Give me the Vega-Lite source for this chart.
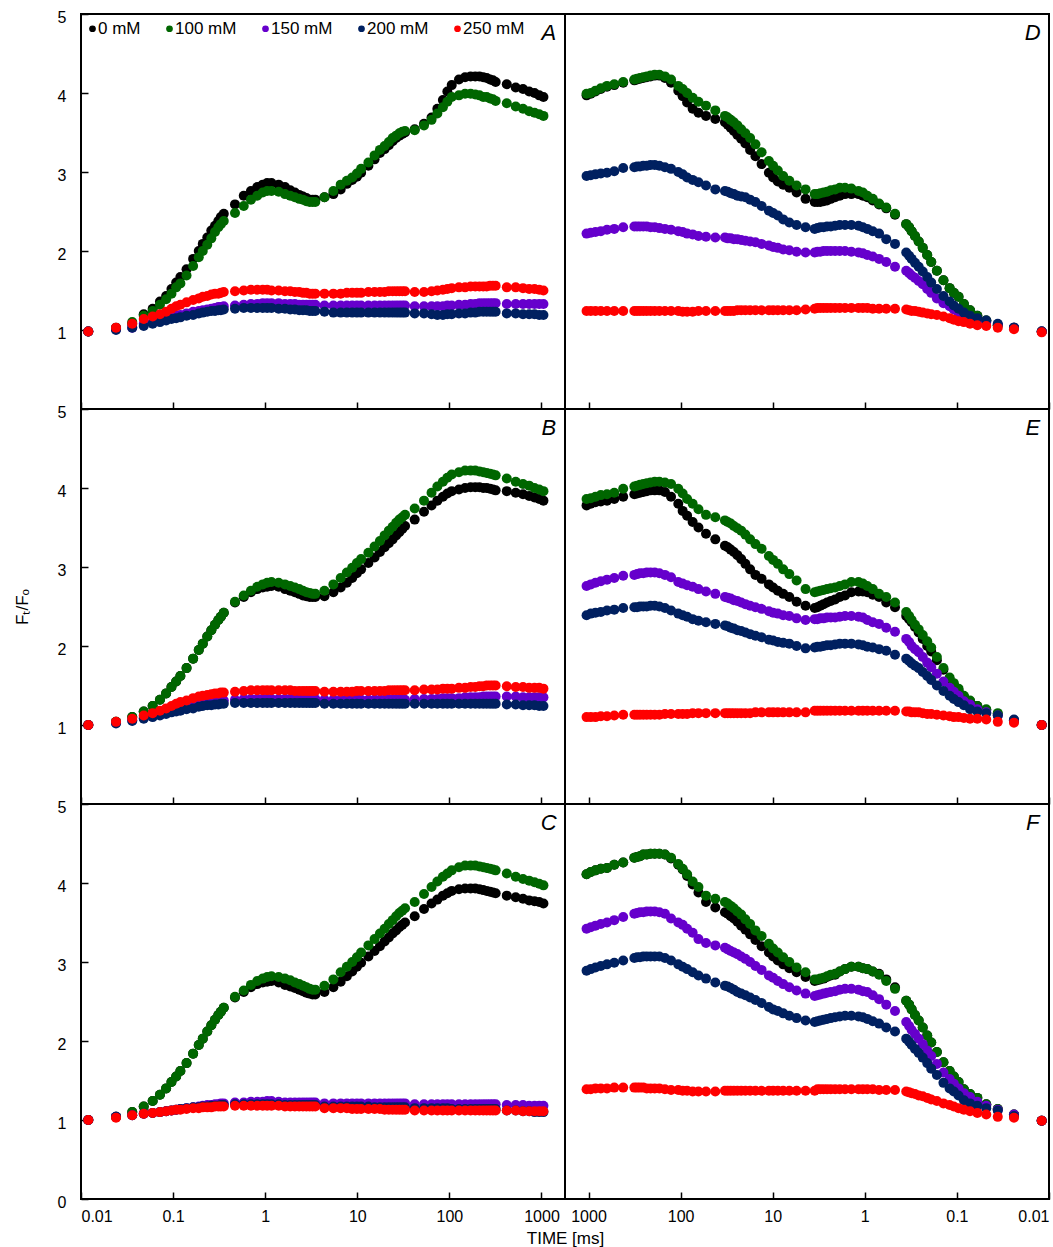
{
"$schema": "https://vega.github.io/schema/vega-lite/v6.json",
"padding": {"left": 12, "top": 8, "right": 3, "bottom": 5},
"background": "white",
"config": {
 "font": "Liberation Sans",
 "view": {"stroke": "black", "strokeWidth": 2},
 "axis": {"grid": false, "domain": false, "tickColor": "black", "tickWidth": 1.5, "tickSize": -7, "labelColor": "black", "labelFontSize": 16, "labelFont": "Liberation Sans", "titleFont": "Liberation Sans", "titleFontWeight": "normal", "titleColor": "black", "titleFontSize": 17},
 "axisX": {"labelPadding": 16},
 "axisY": {"labelPadding": 22, "labelOffset": 3, "format": "d"},
 "legend": {"orient": "none", "legendX": 3, "legendY": 6, "direction": "horizontal", "title": null, "labelFontSize": 17, "labelColor": "black", "symbolSize": 45, "symbolType": "circle", "symbolStrokeWidth": 0, "columnPadding": 20, "labelOffset": -3}
},
"datasets": {"ojip": [
{"p":"A","t":0.012,"0":0.98,"100":0.98,"150":0.98,"200":0.98,"250":0.98},
{"p":"A","t":0.024,"0":1.03,"100":1.02,"150":1.01,"200":1.0,"250":1.03},
{"p":"A","t":0.036,"0":1.08,"100":1.1,"150":1.03,"200":1.03,"250":1.08},
{"p":"A","t":0.048,"0":1.2,"100":1.18,"150":1.08,"200":1.05,"250":1.14},
{"p":"A","t":0.06,"0":1.27,"100":1.24,"150":1.1,"200":1.08,"250":1.17},
{"p":"A","t":0.072,"0":1.36,"100":1.32,"150":1.12,"200":1.1,"250":1.2},
{"p":"A","t":0.084,"0":1.43,"100":1.39,"150":1.14,"200":1.12,"250":1.23},
{"p":"A","t":0.096,"0":1.52,"100":1.46,"150":1.16,"200":1.14,"250":1.27},
{"p":"A","t":0.108,"0":1.6,"100":1.54,"150":1.18,"200":1.15,"250":1.3},
{"p":"A","t":0.12,"0":1.67,"100":1.59,"150":1.19,"200":1.16,"250":1.32},
{"p":"A","t":0.14,"0":1.77,"100":1.69,"150":1.21,"200":1.18,"250":1.35},
{"p":"A","t":0.165,"0":1.9,"100":1.81,"150":1.23,"200":1.19,"250":1.38},
{"p":"A","t":0.19,"0":2.0,"100":1.92,"150":1.24,"200":1.21,"250":1.4},
{"p":"A","t":0.21,"0":2.09,"100":2.0,"150":1.25,"200":1.22,"250":1.42},
{"p":"A","t":0.235,"0":2.17,"100":2.08,"150":1.26,"200":1.23,"250":1.43},
{"p":"A","t":0.26,"0":2.26,"100":2.16,"150":1.27,"200":1.24,"250":1.45},
{"p":"A","t":0.285,"0":2.32,"100":2.24,"150":1.28,"200":1.24,"250":1.46},
{"p":"A","t":0.31,"0":2.38,"100":2.3,"150":1.29,"200":1.25,"250":1.46},
{"p":"A","t":0.33,"0":2.43,"100":2.34,"150":1.29,"200":1.25,"250":1.47},
{"p":"A","t":0.355,"0":2.47,"100":2.38,"150":1.3,"200":1.26,"250":1.48},
{"p":"A","t":0.47,"0":2.59,"100":2.48,"150":1.31,"200":1.27,"250":1.49},
{"p":"A","t":0.585,"0":2.7,"100":2.57,"150":1.32,"200":1.28,"250":1.5},
{"p":"A","t":0.7,"0":2.76,"100":2.65,"150":1.33,"200":1.28,"250":1.51},
{"p":"A","t":0.82,"0":2.81,"100":2.7,"150":1.33,"200":1.28,"250":1.51},
{"p":"A","t":0.94,"0":2.84,"100":2.74,"150":1.34,"200":1.28,"250":1.51},
{"p":"A","t":1.05,"0":2.86,"100":2.76,"150":1.34,"200":1.28,"250":1.51},
{"p":"A","t":1.17,"0":2.86,"100":2.76,"150":1.34,"200":1.28,"250":1.5},
{"p":"A","t":1.4,"0":2.84,"100":2.75,"150":1.34,"200":1.27,"250":1.5},
{"p":"A","t":1.64,"0":2.81,"100":2.72,"150":1.33,"200":1.27,"250":1.49},
{"p":"A","t":1.87,"0":2.77,"100":2.7,"150":1.33,"200":1.26,"250":1.49},
{"p":"A","t":2.1,"0":2.74,"100":2.68,"150":1.33,"200":1.26,"250":1.48},
{"p":"A","t":2.34,"0":2.71,"100":2.66,"150":1.32,"200":1.25,"250":1.48},
{"p":"A","t":2.57,"0":2.69,"100":2.65,"150":1.32,"200":1.25,"250":1.47},
{"p":"A","t":2.8,"0":2.67,"100":2.63,"150":1.32,"200":1.25,"250":1.47},
{"p":"A","t":3.04,"0":2.65,"100":2.62,"150":1.32,"200":1.24,"250":1.46},
{"p":"A","t":3.27,"0":2.65,"100":2.62,"150":1.32,"200":1.24,"250":1.46},
{"p":"A","t":3.5,"0":2.65,"100":2.62,"150":1.32,"200":1.24,"250":1.46},
{"p":"A","t":4.4,"0":2.68,"100":2.68,"150":1.31,"200":1.23,"250":1.46},
{"p":"A","t":5.5,"0":2.72,"100":2.76,"150":1.31,"200":1.22,"250":1.46},
{"p":"A","t":6.6,"0":2.78,"100":2.84,"150":1.31,"200":1.22,"250":1.46},
{"p":"A","t":7.7,"0":2.85,"100":2.89,"150":1.31,"200":1.22,"250":1.47},
{"p":"A","t":8.8,"0":2.9,"100":2.93,"150":1.31,"200":1.22,"250":1.47},
{"p":"A","t":9.9,"0":2.94,"100":2.98,"150":1.31,"200":1.22,"250":1.47},
{"p":"A","t":11,"0":2.99,"100":3.04,"150":1.31,"200":1.22,"250":1.47},
{"p":"A","t":13.2,"0":3.08,"100":3.12,"150":1.31,"200":1.22,"250":1.48},
{"p":"A","t":15.4,"0":3.16,"100":3.21,"150":1.31,"200":1.22,"250":1.48},
{"p":"A","t":17.6,"0":3.24,"100":3.28,"150":1.31,"200":1.22,"250":1.48},
{"p":"A","t":19.8,"0":3.29,"100":3.33,"150":1.31,"200":1.22,"250":1.48},
{"p":"A","t":22,"0":3.34,"100":3.38,"150":1.31,"200":1.22,"250":1.49},
{"p":"A","t":24.2,"0":3.39,"100":3.43,"150":1.31,"200":1.22,"250":1.49},
{"p":"A","t":26.4,"0":3.43,"100":3.46,"150":1.31,"200":1.22,"250":1.49},
{"p":"A","t":28.6,"0":3.46,"100":3.49,"150":1.31,"200":1.22,"250":1.49},
{"p":"A","t":30.8,"0":3.48,"100":3.51,"150":1.31,"200":1.22,"250":1.49},
{"p":"A","t":33,"0":3.5,"100":3.52,"150":1.31,"200":1.22,"250":1.49},
{"p":"A","t":42,"0":3.54,"100":3.53,"150":1.3,"200":1.21,"250":1.48},
{"p":"A","t":53,"0":3.61,"100":3.59,"150":1.3,"200":1.21,"250":1.48},
{"p":"A","t":64,"0":3.69,"100":3.66,"150":1.3,"200":1.2,"250":1.49},
{"p":"A","t":74,"0":3.8,"100":3.74,"150":1.3,"200":1.19,"250":1.5},
{"p":"A","t":85,"0":3.91,"100":3.82,"150":1.3,"200":1.19,"250":1.51},
{"p":"A","t":95,"0":4.02,"100":3.89,"150":1.31,"200":1.2,"250":1.52},
{"p":"A","t":106,"0":4.1,"100":3.95,"150":1.31,"200":1.2,"250":1.53},
{"p":"A","t":127,"0":4.17,"100":3.97,"150":1.32,"200":1.21,"250":1.54},
{"p":"A","t":148,"0":4.2,"100":3.99,"150":1.32,"200":1.21,"250":1.54},
{"p":"A","t":170,"0":4.21,"100":3.99,"150":1.33,"200":1.22,"250":1.55},
{"p":"A","t":191,"0":4.21,"100":3.98,"150":1.33,"200":1.22,"250":1.55},
{"p":"A","t":212,"0":4.21,"100":3.97,"150":1.34,"200":1.23,"250":1.55},
{"p":"A","t":233,"0":4.2,"100":3.95,"150":1.34,"200":1.23,"250":1.55},
{"p":"A","t":254,"0":4.19,"100":3.95,"150":1.34,"200":1.23,"250":1.55},
{"p":"A","t":276,"0":4.17,"100":3.93,"150":1.34,"200":1.23,"250":1.56},
{"p":"A","t":297,"0":4.16,"100":3.92,"150":1.34,"200":1.23,"250":1.56},
{"p":"A","t":318,"0":4.14,"100":3.9,"150":1.34,"200":1.23,"250":1.56},
{"p":"A","t":420,"0":4.11,"100":3.87,"150":1.33,"200":1.21,"250":1.54},
{"p":"A","t":525,"0":4.07,"100":3.83,"150":1.33,"200":1.21,"250":1.54},
{"p":"A","t":630,"0":4.05,"100":3.8,"150":1.33,"200":1.2,"250":1.53},
{"p":"A","t":735,"0":4.02,"100":3.77,"150":1.33,"200":1.2,"250":1.52},
{"p":"A","t":840,"0":4.0,"100":3.75,"150":1.33,"200":1.2,"250":1.52},
{"p":"A","t":945,"0":3.97,"100":3.73,"150":1.33,"200":1.19,"250":1.51},
{"p":"A","t":1050,"0":3.95,"100":3.71,"150":1.33,"200":1.19,"250":1.5},
{"p":"B","t":0.012,"0":1.0,"100":1.0,"150":1.0,"200":1.0,"250":1.0},
{"p":"B","t":0.024,"0":1.04,"100":1.04,"150":1.03,"200":1.02,"250":1.04},
{"p":"B","t":0.036,"0":1.1,"100":1.1,"150":1.06,"200":1.05,"250":1.08},
{"p":"B","t":0.048,"0":1.17,"100":1.17,"150":1.09,"200":1.08,"250":1.12},
{"p":"B","t":0.06,"0":1.24,"100":1.24,"150":1.11,"200":1.1,"250":1.15},
{"p":"B","t":0.072,"0":1.32,"100":1.32,"150":1.13,"200":1.12,"250":1.18},
{"p":"B","t":0.084,"0":1.4,"100":1.4,"150":1.15,"200":1.14,"250":1.21},
{"p":"B","t":0.096,"0":1.48,"100":1.48,"150":1.17,"200":1.16,"250":1.24},
{"p":"B","t":0.108,"0":1.55,"100":1.55,"150":1.19,"200":1.17,"250":1.27},
{"p":"B","t":0.12,"0":1.62,"100":1.62,"150":1.2,"200":1.18,"250":1.29},
{"p":"B","t":0.14,"0":1.72,"100":1.72,"150":1.22,"200":1.2,"250":1.31},
{"p":"B","t":0.165,"0":1.84,"100":1.84,"150":1.24,"200":1.21,"250":1.34},
{"p":"B","t":0.19,"0":1.95,"100":1.95,"150":1.26,"200":1.23,"250":1.36},
{"p":"B","t":0.21,"0":2.03,"100":2.03,"150":1.27,"200":1.24,"250":1.37},
{"p":"B","t":0.235,"0":2.12,"100":2.12,"150":1.28,"200":1.25,"250":1.38},
{"p":"B","t":0.26,"0":2.2,"100":2.2,"150":1.29,"200":1.25,"250":1.39},
{"p":"B","t":0.285,"0":2.27,"100":2.27,"150":1.3,"200":1.26,"250":1.4},
{"p":"B","t":0.31,"0":2.33,"100":2.33,"150":1.3,"200":1.26,"250":1.4},
{"p":"B","t":0.33,"0":2.37,"100":2.37,"150":1.31,"200":1.27,"250":1.41},
{"p":"B","t":0.355,"0":2.42,"100":2.42,"150":1.31,"200":1.27,"250":1.41},
{"p":"B","t":0.47,"0":2.55,"100":2.56,"150":1.32,"200":1.28,"250":1.42},
{"p":"B","t":0.585,"0":2.62,"100":2.64,"150":1.33,"200":1.28,"250":1.43},
{"p":"B","t":0.7,"0":2.68,"100":2.7,"150":1.33,"200":1.28,"250":1.44},
{"p":"B","t":0.82,"0":2.72,"100":2.75,"150":1.33,"200":1.28,"250":1.44},
{"p":"B","t":0.94,"0":2.74,"100":2.78,"150":1.33,"200":1.28,"250":1.44},
{"p":"B","t":1.05,"0":2.75,"100":2.8,"150":1.33,"200":1.28,"250":1.44},
{"p":"B","t":1.17,"0":2.76,"100":2.81,"150":1.33,"200":1.28,"250":1.44},
{"p":"B","t":1.4,"0":2.75,"100":2.8,"150":1.33,"200":1.28,"250":1.44},
{"p":"B","t":1.64,"0":2.72,"100":2.78,"150":1.33,"200":1.28,"250":1.44},
{"p":"B","t":1.87,"0":2.7,"100":2.76,"150":1.33,"200":1.28,"250":1.44},
{"p":"B","t":2.1,"0":2.68,"100":2.74,"150":1.33,"200":1.28,"250":1.43},
{"p":"B","t":2.34,"0":2.66,"100":2.72,"150":1.33,"200":1.28,"250":1.43},
{"p":"B","t":2.57,"0":2.64,"100":2.7,"150":1.33,"200":1.28,"250":1.43},
{"p":"B","t":2.8,"0":2.63,"100":2.68,"150":1.33,"200":1.28,"250":1.43},
{"p":"B","t":3.04,"0":2.62,"100":2.67,"150":1.33,"200":1.28,"250":1.43},
{"p":"B","t":3.27,"0":2.62,"100":2.66,"150":1.33,"200":1.28,"250":1.43},
{"p":"B","t":3.5,"0":2.62,"100":2.66,"150":1.33,"200":1.28,"250":1.43},
{"p":"B","t":4.4,"0":2.63,"100":2.7,"150":1.32,"200":1.27,"250":1.42},
{"p":"B","t":5.5,"0":2.68,"100":2.78,"150":1.32,"200":1.27,"250":1.42},
{"p":"B","t":6.6,"0":2.74,"100":2.86,"150":1.32,"200":1.27,"250":1.42},
{"p":"B","t":7.7,"0":2.8,"100":2.93,"150":1.32,"200":1.27,"250":1.42},
{"p":"B","t":8.8,"0":2.86,"100":2.99,"150":1.32,"200":1.27,"250":1.42},
{"p":"B","t":9.9,"0":2.92,"100":3.05,"150":1.32,"200":1.27,"250":1.43},
{"p":"B","t":11,"0":2.97,"100":3.1,"150":1.32,"200":1.27,"250":1.43},
{"p":"B","t":13.2,"0":3.05,"100":3.18,"150":1.32,"200":1.27,"250":1.43},
{"p":"B","t":15.4,"0":3.12,"100":3.26,"150":1.32,"200":1.27,"250":1.43},
{"p":"B","t":17.6,"0":3.19,"100":3.33,"150":1.32,"200":1.27,"250":1.43},
{"p":"B","t":19.8,"0":3.25,"100":3.4,"150":1.32,"200":1.27,"250":1.43},
{"p":"B","t":22,"0":3.3,"100":3.46,"150":1.32,"200":1.27,"250":1.44},
{"p":"B","t":24.2,"0":3.35,"100":3.51,"150":1.32,"200":1.27,"250":1.44},
{"p":"B","t":26.4,"0":3.4,"100":3.56,"150":1.32,"200":1.27,"250":1.44},
{"p":"B","t":28.6,"0":3.44,"100":3.6,"150":1.32,"200":1.27,"250":1.44},
{"p":"B","t":30.8,"0":3.48,"100":3.63,"150":1.32,"200":1.27,"250":1.44},
{"p":"B","t":33,"0":3.52,"100":3.66,"150":1.32,"200":1.27,"250":1.44},
{"p":"B","t":42,"0":3.6,"100":3.74,"150":1.33,"200":1.27,"250":1.44},
{"p":"B","t":53,"0":3.7,"100":3.84,"150":1.33,"200":1.27,"250":1.45},
{"p":"B","t":64,"0":3.78,"100":3.94,"150":1.33,"200":1.27,"250":1.45},
{"p":"B","t":74,"0":3.84,"100":4.02,"150":1.33,"200":1.27,"250":1.45},
{"p":"B","t":85,"0":3.89,"100":4.08,"150":1.34,"200":1.27,"250":1.46},
{"p":"B","t":95,"0":3.93,"100":4.13,"150":1.34,"200":1.27,"250":1.46},
{"p":"B","t":106,"0":3.96,"100":4.17,"150":1.34,"200":1.27,"250":1.46},
{"p":"B","t":127,"0":3.98,"100":4.2,"150":1.34,"200":1.27,"250":1.47},
{"p":"B","t":148,"0":4.0,"100":4.22,"150":1.35,"200":1.27,"250":1.47},
{"p":"B","t":170,"0":4.01,"100":4.22,"150":1.35,"200":1.27,"250":1.48},
{"p":"B","t":191,"0":4.01,"100":4.22,"150":1.35,"200":1.27,"250":1.48},
{"p":"B","t":212,"0":4.01,"100":4.21,"150":1.35,"200":1.27,"250":1.49},
{"p":"B","t":233,"0":4.0,"100":4.2,"150":1.36,"200":1.27,"250":1.49},
{"p":"B","t":254,"0":4.0,"100":4.19,"150":1.36,"200":1.27,"250":1.5},
{"p":"B","t":276,"0":3.99,"100":4.18,"150":1.36,"200":1.27,"250":1.5},
{"p":"B","t":297,"0":3.98,"100":4.17,"150":1.36,"200":1.27,"250":1.5},
{"p":"B","t":318,"0":3.97,"100":4.16,"150":1.36,"200":1.27,"250":1.5},
{"p":"B","t":420,"0":3.96,"100":4.12,"150":1.36,"200":1.26,"250":1.49},
{"p":"B","t":525,"0":3.94,"100":4.08,"150":1.36,"200":1.26,"250":1.48},
{"p":"B","t":630,"0":3.92,"100":4.05,"150":1.35,"200":1.25,"250":1.48},
{"p":"B","t":735,"0":3.9,"100":4.03,"150":1.35,"200":1.25,"250":1.47},
{"p":"B","t":840,"0":3.88,"100":4.0,"150":1.35,"200":1.25,"250":1.47},
{"p":"B","t":945,"0":3.86,"100":3.98,"150":1.35,"200":1.24,"250":1.47},
{"p":"B","t":1050,"0":3.84,"100":3.96,"150":1.35,"200":1.24,"250":1.46},
{"p":"C","t":0.012,"0":1.0,"100":1.0,"150":1.0,"200":1.0,"250":1.0},
{"p":"C","t":0.024,"0":1.04,"100":1.04,"150":1.04,"200":1.04,"250":1.03},
{"p":"C","t":0.036,"0":1.1,"100":1.1,"150":1.06,"200":1.06,"250":1.06},
{"p":"C","t":0.048,"0":1.17,"100":1.17,"150":1.08,"200":1.08,"250":1.08},
{"p":"C","t":0.06,"0":1.24,"100":1.24,"150":1.09,"200":1.09,"250":1.09},
{"p":"C","t":0.072,"0":1.32,"100":1.32,"150":1.1,"200":1.1,"250":1.1},
{"p":"C","t":0.084,"0":1.4,"100":1.4,"150":1.11,"200":1.11,"250":1.11},
{"p":"C","t":0.096,"0":1.48,"100":1.48,"150":1.12,"200":1.12,"250":1.12},
{"p":"C","t":0.108,"0":1.55,"100":1.55,"150":1.13,"200":1.13,"250":1.13},
{"p":"C","t":0.12,"0":1.62,"100":1.62,"150":1.14,"200":1.14,"250":1.13},
{"p":"C","t":0.14,"0":1.72,"100":1.72,"150":1.15,"200":1.15,"250":1.14},
{"p":"C","t":0.165,"0":1.84,"100":1.84,"150":1.16,"200":1.16,"250":1.15},
{"p":"C","t":0.19,"0":1.95,"100":1.95,"150":1.17,"200":1.16,"250":1.15},
{"p":"C","t":0.21,"0":2.03,"100":2.03,"150":1.18,"200":1.17,"250":1.16},
{"p":"C","t":0.235,"0":2.12,"100":2.12,"150":1.19,"200":1.17,"250":1.16},
{"p":"C","t":0.26,"0":2.2,"100":2.2,"150":1.19,"200":1.18,"250":1.16},
{"p":"C","t":0.285,"0":2.27,"100":2.27,"150":1.2,"200":1.18,"250":1.17},
{"p":"C","t":0.31,"0":2.33,"100":2.33,"150":1.2,"200":1.18,"250":1.17},
{"p":"C","t":0.33,"0":2.37,"100":2.37,"150":1.21,"200":1.19,"250":1.17},
{"p":"C","t":0.355,"0":2.42,"100":2.42,"150":1.21,"200":1.19,"250":1.17},
{"p":"C","t":0.47,"0":2.55,"100":2.56,"150":1.22,"200":1.2,"250":1.18},
{"p":"C","t":0.585,"0":2.62,"100":2.64,"150":1.22,"200":1.2,"250":1.18},
{"p":"C","t":0.7,"0":2.68,"100":2.71,"150":1.23,"200":1.2,"250":1.18},
{"p":"C","t":0.82,"0":2.72,"100":2.76,"150":1.23,"200":1.2,"250":1.18},
{"p":"C","t":0.94,"0":2.74,"100":2.79,"150":1.23,"200":1.2,"250":1.18},
{"p":"C","t":1.05,"0":2.75,"100":2.81,"150":1.24,"200":1.2,"250":1.18},
{"p":"C","t":1.17,"0":2.76,"100":2.82,"150":1.24,"200":1.2,"250":1.18},
{"p":"C","t":1.4,"0":2.74,"100":2.81,"150":1.23,"200":1.2,"250":1.18},
{"p":"C","t":1.64,"0":2.71,"100":2.79,"150":1.22,"200":1.19,"250":1.17},
{"p":"C","t":1.87,"0":2.69,"100":2.77,"150":1.22,"200":1.19,"250":1.17},
{"p":"C","t":2.1,"0":2.67,"100":2.74,"150":1.22,"200":1.19,"250":1.17},
{"p":"C","t":2.34,"0":2.65,"100":2.72,"150":1.22,"200":1.19,"250":1.17},
{"p":"C","t":2.57,"0":2.63,"100":2.7,"150":1.22,"200":1.19,"250":1.17},
{"p":"C","t":2.8,"0":2.61,"100":2.68,"150":1.22,"200":1.19,"250":1.17},
{"p":"C","t":3.04,"0":2.6,"100":2.66,"150":1.22,"200":1.19,"250":1.17},
{"p":"C","t":3.27,"0":2.59,"100":2.65,"150":1.22,"200":1.19,"250":1.17},
{"p":"C","t":3.5,"0":2.59,"100":2.65,"150":1.22,"200":1.19,"250":1.17},
{"p":"C","t":4.4,"0":2.62,"100":2.7,"150":1.21,"200":1.17,"250":1.15},
{"p":"C","t":5.5,"0":2.68,"100":2.78,"150":1.21,"200":1.17,"250":1.15},
{"p":"C","t":6.6,"0":2.75,"100":2.87,"150":1.21,"200":1.17,"250":1.15},
{"p":"C","t":7.7,"0":2.82,"100":2.94,"150":1.21,"200":1.17,"250":1.15},
{"p":"C","t":8.8,"0":2.88,"100":3.0,"150":1.21,"200":1.17,"250":1.14},
{"p":"C","t":9.9,"0":2.94,"100":3.06,"150":1.21,"200":1.17,"250":1.14},
{"p":"C","t":11,"0":2.99,"100":3.12,"150":1.21,"200":1.17,"250":1.14},
{"p":"C","t":13.2,"0":3.07,"100":3.21,"150":1.21,"200":1.17,"250":1.14},
{"p":"C","t":15.4,"0":3.14,"100":3.29,"150":1.21,"200":1.16,"250":1.14},
{"p":"C","t":17.6,"0":3.2,"100":3.36,"150":1.21,"200":1.16,"250":1.14},
{"p":"C","t":19.8,"0":3.26,"100":3.42,"150":1.21,"200":1.16,"250":1.13},
{"p":"C","t":22,"0":3.31,"100":3.48,"150":1.21,"200":1.16,"250":1.13},
{"p":"C","t":24.2,"0":3.36,"100":3.53,"150":1.21,"200":1.16,"250":1.13},
{"p":"C","t":26.4,"0":3.4,"100":3.58,"150":1.21,"200":1.16,"250":1.13},
{"p":"C","t":28.6,"0":3.44,"100":3.62,"150":1.21,"200":1.16,"250":1.13},
{"p":"C","t":30.8,"0":3.47,"100":3.65,"150":1.21,"200":1.16,"250":1.13},
{"p":"C","t":33,"0":3.5,"100":3.68,"150":1.21,"200":1.16,"250":1.13},
{"p":"C","t":42,"0":3.58,"100":3.76,"150":1.2,"200":1.15,"250":1.12},
{"p":"C","t":53,"0":3.67,"100":3.86,"150":1.2,"200":1.15,"250":1.12},
{"p":"C","t":64,"0":3.74,"100":3.95,"150":1.2,"200":1.15,"250":1.12},
{"p":"C","t":74,"0":3.79,"100":4.02,"150":1.2,"200":1.15,"250":1.12},
{"p":"C","t":85,"0":3.84,"100":4.08,"150":1.2,"200":1.15,"250":1.12},
{"p":"C","t":95,"0":3.87,"100":4.12,"150":1.2,"200":1.15,"250":1.12},
{"p":"C","t":106,"0":3.9,"100":4.16,"150":1.2,"200":1.14,"250":1.12},
{"p":"C","t":127,"0":3.92,"100":4.2,"150":1.2,"200":1.14,"250":1.12},
{"p":"C","t":148,"0":3.93,"100":4.22,"150":1.2,"200":1.14,"250":1.12},
{"p":"C","t":170,"0":3.93,"100":4.22,"150":1.2,"200":1.14,"250":1.12},
{"p":"C","t":191,"0":3.93,"100":4.22,"150":1.2,"200":1.14,"250":1.12},
{"p":"C","t":212,"0":3.92,"100":4.21,"150":1.2,"200":1.14,"250":1.12},
{"p":"C","t":233,"0":3.91,"100":4.2,"150":1.2,"200":1.14,"250":1.12},
{"p":"C","t":254,"0":3.9,"100":4.19,"150":1.2,"200":1.14,"250":1.12},
{"p":"C","t":276,"0":3.89,"100":4.18,"150":1.2,"200":1.14,"250":1.12},
{"p":"C","t":297,"0":3.88,"100":4.17,"150":1.2,"200":1.14,"250":1.12},
{"p":"C","t":318,"0":3.87,"100":4.16,"150":1.2,"200":1.14,"250":1.12},
{"p":"C","t":420,"0":3.84,"100":4.12,"150":1.19,"200":1.12,"250":1.12},
{"p":"C","t":525,"0":3.82,"100":4.08,"150":1.19,"200":1.12,"250":1.12},
{"p":"C","t":630,"0":3.8,"100":4.05,"150":1.19,"200":1.11,"250":1.11},
{"p":"C","t":735,"0":3.78,"100":4.03,"150":1.18,"200":1.11,"250":1.11},
{"p":"C","t":840,"0":3.77,"100":4.01,"150":1.18,"200":1.1,"250":1.11},
{"p":"C","t":945,"0":3.76,"100":3.99,"150":1.18,"200":1.1,"250":1.11},
{"p":"C","t":1050,"0":3.74,"100":3.97,"150":1.18,"200":1.1,"250":1.11},
{"p":"D","t":0.012,"0":0.98,"100":0.98,"150":0.98,"200":0.98,"250":0.97},
{"p":"D","t":0.024,"0":1.03,"100":1.03,"150":1.03,"200":1.03,"250":1.01},
{"p":"D","t":0.036,"0":1.06,"100":1.06,"150":1.07,"200":1.08,"250":1.03},
{"p":"D","t":0.048,"0":1.12,"100":1.12,"150":1.1,"200":1.12,"250":1.05},
{"p":"D","t":0.06,"0":1.18,"100":1.18,"150":1.13,"200":1.15,"250":1.06},
{"p":"D","t":0.072,"0":1.25,"100":1.25,"150":1.16,"200":1.18,"250":1.08},
{"p":"D","t":0.084,"0":1.33,"100":1.33,"150":1.19,"200":1.22,"250":1.1},
{"p":"D","t":0.096,"0":1.42,"100":1.42,"150":1.22,"200":1.27,"250":1.11},
{"p":"D","t":0.108,"0":1.47,"100":1.47,"150":1.26,"200":1.31,"250":1.13},
{"p":"D","t":0.12,"0":1.53,"100":1.53,"150":1.3,"200":1.36,"250":1.15},
{"p":"D","t":0.14,"0":1.63,"100":1.63,"150":1.34,"200":1.43,"250":1.17},
{"p":"D","t":0.165,"0":1.75,"100":1.75,"150":1.4,"200":1.52,"250":1.19},
{"p":"D","t":0.19,"0":1.86,"100":1.86,"150":1.47,"200":1.6,"250":1.2},
{"p":"D","t":0.21,"0":1.95,"100":1.95,"150":1.52,"200":1.67,"250":1.21},
{"p":"D","t":0.235,"0":2.04,"100":2.04,"150":1.58,"200":1.74,"250":1.22},
{"p":"D","t":0.26,"0":2.12,"100":2.12,"150":1.62,"200":1.8,"250":1.23},
{"p":"D","t":0.285,"0":2.19,"100":2.19,"150":1.66,"200":1.85,"250":1.24},
{"p":"D","t":0.31,"0":2.25,"100":2.25,"150":1.69,"200":1.9,"250":1.24},
{"p":"D","t":0.33,"0":2.3,"100":2.3,"150":1.72,"200":1.94,"250":1.25},
{"p":"D","t":0.355,"0":2.34,"100":2.34,"150":1.75,"200":1.98,"250":1.26},
{"p":"D","t":0.47,"0":2.46,"100":2.47,"150":1.8,"200":2.09,"250":1.27},
{"p":"D","t":0.585,"0":2.54,"100":2.55,"150":1.86,"200":2.15,"250":1.27},
{"p":"D","t":0.7,"0":2.59,"100":2.6,"150":1.9,"200":2.22,"250":1.27},
{"p":"D","t":0.82,"0":2.64,"100":2.66,"150":1.93,"200":2.25,"250":1.27},
{"p":"D","t":0.94,"0":2.68,"100":2.7,"150":1.95,"200":2.28,"250":1.28},
{"p":"D","t":1.05,"0":2.7,"100":2.74,"150":1.97,"200":2.3,"250":1.28},
{"p":"D","t":1.17,"0":2.72,"100":2.76,"150":1.98,"200":2.32,"250":1.28},
{"p":"D","t":1.4,"0":2.72,"100":2.79,"150":1.99,"200":2.33,"250":1.28},
{"p":"D","t":1.64,"0":2.72,"100":2.8,"150":2.0,"200":2.33,"250":1.28},
{"p":"D","t":1.87,"0":2.7,"100":2.8,"150":2.0,"200":2.33,"250":1.28},
{"p":"D","t":2.1,"0":2.68,"100":2.78,"150":2.0,"200":2.32,"250":1.28},
{"p":"D","t":2.34,"0":2.66,"100":2.77,"150":2.0,"200":2.31,"250":1.28},
{"p":"D","t":2.57,"0":2.64,"100":2.75,"150":2.0,"200":2.31,"250":1.28},
{"p":"D","t":2.8,"0":2.63,"100":2.74,"150":2.0,"200":2.3,"250":1.28},
{"p":"D","t":3.04,"0":2.62,"100":2.73,"150":1.99,"200":2.3,"250":1.28},
{"p":"D","t":3.27,"0":2.62,"100":2.72,"150":1.99,"200":2.29,"250":1.28},
{"p":"D","t":3.5,"0":2.62,"100":2.72,"150":1.98,"200":2.28,"250":1.27},
{"p":"D","t":4.4,"0":2.66,"100":2.78,"150":1.98,"200":2.3,"250":1.26},
{"p":"D","t":5.5,"0":2.74,"100":2.83,"150":1.99,"200":2.33,"250":1.25},
{"p":"D","t":6.6,"0":2.8,"100":2.89,"150":2.01,"200":2.36,"250":1.25},
{"p":"D","t":7.7,"0":2.84,"100":2.95,"150":2.02,"200":2.4,"250":1.25},
{"p":"D","t":8.8,"0":2.88,"100":3.02,"150":2.04,"200":2.45,"250":1.25},
{"p":"D","t":9.9,"0":2.93,"100":3.08,"150":2.05,"200":2.48,"250":1.25},
{"p":"D","t":11,"0":2.99,"100":3.14,"150":2.07,"200":2.51,"250":1.25},
{"p":"D","t":13.2,"0":3.1,"100":3.25,"150":2.09,"200":2.57,"250":1.25},
{"p":"D","t":15.4,"0":3.2,"100":3.35,"150":2.11,"200":2.62,"250":1.25},
{"p":"D","t":17.6,"0":3.28,"100":3.43,"150":2.12,"200":2.65,"250":1.25},
{"p":"D","t":19.8,"0":3.36,"100":3.49,"150":2.13,"200":2.68,"250":1.25},
{"p":"D","t":22,"0":3.42,"100":3.54,"150":2.14,"200":2.69,"250":1.25},
{"p":"D","t":24.2,"0":3.47,"100":3.59,"150":2.15,"200":2.7,"250":1.25},
{"p":"D","t":26.4,"0":3.52,"100":3.63,"150":2.15,"200":2.72,"250":1.24},
{"p":"D","t":28.6,"0":3.56,"100":3.66,"150":2.16,"200":2.73,"250":1.24},
{"p":"D","t":30.8,"0":3.6,"100":3.69,"150":2.16,"200":2.75,"250":1.24},
{"p":"D","t":33,"0":3.63,"100":3.71,"150":2.17,"200":2.76,"250":1.24},
{"p":"D","t":42,"0":3.67,"100":3.78,"150":2.17,"200":2.78,"250":1.24},
{"p":"D","t":53,"0":3.71,"100":3.84,"150":2.18,"200":2.83,"250":1.24},
{"p":"D","t":64,"0":3.75,"100":3.89,"150":2.19,"200":2.87,"250":1.24},
{"p":"D","t":74,"0":3.8,"100":3.94,"150":2.21,"200":2.9,"250":1.23},
{"p":"D","t":85,"0":3.88,"100":4.0,"150":2.22,"200":2.93,"250":1.23},
{"p":"D","t":95,"0":3.96,"100":4.05,"150":2.24,"200":2.97,"250":1.23},
{"p":"D","t":106,"0":4.03,"100":4.09,"150":2.25,"200":3.0,"250":1.24},
{"p":"D","t":127,"0":4.13,"100":4.17,"150":2.27,"200":3.04,"250":1.24},
{"p":"D","t":148,"0":4.19,"100":4.21,"150":2.28,"200":3.06,"250":1.24},
{"p":"D","t":170,"0":4.22,"100":4.23,"150":2.29,"200":3.08,"250":1.24},
{"p":"D","t":191,"0":4.22,"100":4.23,"150":2.3,"200":3.09,"250":1.24},
{"p":"D","t":212,"0":4.21,"100":4.22,"150":2.3,"200":3.09,"250":1.24},
{"p":"D","t":233,"0":4.2,"100":4.21,"150":2.31,"200":3.08,"250":1.24},
{"p":"D","t":254,"0":4.19,"100":4.2,"150":2.31,"200":3.08,"250":1.24},
{"p":"D","t":276,"0":4.18,"100":4.19,"150":2.31,"200":3.07,"250":1.24},
{"p":"D","t":297,"0":4.17,"100":4.18,"150":2.31,"200":3.07,"250":1.24},
{"p":"D","t":318,"0":4.16,"100":4.17,"150":2.31,"200":3.06,"250":1.24},
{"p":"D","t":420,"0":4.13,"100":4.14,"150":2.3,"200":3.05,"250":1.24},
{"p":"D","t":525,"0":4.1,"100":4.11,"150":2.28,"200":3.01,"250":1.24},
{"p":"D","t":630,"0":4.08,"100":4.09,"150":2.27,"200":2.99,"250":1.24},
{"p":"D","t":735,"0":4.05,"100":4.06,"150":2.25,"200":2.98,"250":1.24},
{"p":"D","t":840,"0":4.02,"100":4.03,"150":2.24,"200":2.97,"250":1.24},
{"p":"D","t":945,"0":3.99,"100":4.0,"150":2.23,"200":2.96,"250":1.24},
{"p":"D","t":1050,"0":3.97,"100":3.99,"150":2.22,"200":2.95,"250":1.24},
{"p":"E","t":0.012,"0":1.0,"100":1.0,"150":1.0,"200":1.0,"250":1.0},
{"p":"E","t":0.024,"0":1.05,"100":1.06,"150":1.06,"200":1.07,"250":1.03},
{"p":"E","t":0.036,"0":1.14,"100":1.15,"150":1.12,"200":1.12,"250":1.04},
{"p":"E","t":0.048,"0":1.19,"100":1.2,"150":1.16,"200":1.15,"250":1.07},
{"p":"E","t":0.06,"0":1.24,"100":1.24,"150":1.2,"200":1.17,"250":1.08},
{"p":"E","t":0.072,"0":1.3,"100":1.31,"150":1.26,"200":1.2,"250":1.08},
{"p":"E","t":0.084,"0":1.36,"100":1.37,"150":1.3,"200":1.25,"250":1.09},
{"p":"E","t":0.096,"0":1.44,"100":1.46,"150":1.37,"200":1.29,"250":1.1},
{"p":"E","t":0.108,"0":1.51,"100":1.53,"150":1.42,"200":1.33,"250":1.1},
{"p":"E","t":0.12,"0":1.58,"100":1.6,"150":1.47,"200":1.37,"250":1.11},
{"p":"E","t":0.14,"0":1.7,"100":1.72,"150":1.55,"200":1.43,"250":1.12},
{"p":"E","t":0.165,"0":1.82,"100":1.86,"150":1.65,"200":1.5,"250":1.13},
{"p":"E","t":0.19,"0":1.93,"100":1.98,"150":1.73,"200":1.57,"250":1.14},
{"p":"E","t":0.21,"0":2.0,"100":2.06,"150":1.79,"200":1.62,"250":1.14},
{"p":"E","t":0.235,"0":2.09,"100":2.14,"150":1.86,"200":1.67,"250":1.15},
{"p":"E","t":0.26,"0":2.17,"100":2.21,"150":1.92,"200":1.72,"250":1.16},
{"p":"E","t":0.285,"0":2.24,"100":2.27,"150":1.96,"200":1.75,"250":1.16},
{"p":"E","t":0.31,"0":2.3,"100":2.33,"150":2.0,"200":1.78,"250":1.16},
{"p":"E","t":0.33,"0":2.34,"100":2.38,"150":2.05,"200":1.81,"250":1.17},
{"p":"E","t":0.355,"0":2.38,"100":2.43,"150":2.09,"200":1.84,"250":1.17},
{"p":"E","t":0.47,"0":2.49,"100":2.55,"150":2.18,"200":1.89,"250":1.18},
{"p":"E","t":0.585,"0":2.55,"100":2.62,"150":2.23,"200":1.94,"250":1.18},
{"p":"E","t":0.7,"0":2.62,"100":2.66,"150":2.28,"200":1.96,"250":1.18},
{"p":"E","t":0.82,"0":2.65,"100":2.72,"150":2.3,"200":1.98,"250":1.18},
{"p":"E","t":0.94,"0":2.68,"100":2.76,"150":2.33,"200":1.99,"250":1.18},
{"p":"E","t":1.05,"0":2.69,"100":2.79,"150":2.36,"200":2.01,"250":1.18},
{"p":"E","t":1.17,"0":2.69,"100":2.81,"150":2.37,"200":2.02,"250":1.18},
{"p":"E","t":1.4,"0":2.68,"100":2.81,"150":2.38,"200":2.03,"250":1.18},
{"p":"E","t":1.64,"0":2.64,"100":2.78,"150":2.38,"200":2.03,"250":1.18},
{"p":"E","t":1.87,"0":2.62,"100":2.76,"150":2.37,"200":2.03,"250":1.18},
{"p":"E","t":2.1,"0":2.59,"100":2.74,"150":2.36,"200":2.02,"250":1.18},
{"p":"E","t":2.34,"0":2.57,"100":2.73,"150":2.36,"200":2.01,"250":1.18},
{"p":"E","t":2.57,"0":2.55,"100":2.72,"150":2.36,"200":2.01,"250":1.18},
{"p":"E","t":2.8,"0":2.53,"100":2.71,"150":2.35,"200":2.0,"250":1.18},
{"p":"E","t":3.04,"0":2.51,"100":2.7,"150":2.35,"200":1.99,"250":1.18},
{"p":"E","t":3.27,"0":2.49,"100":2.69,"150":2.34,"200":1.99,"250":1.18},
{"p":"E","t":3.5,"0":2.48,"100":2.68,"150":2.34,"200":1.98,"250":1.18},
{"p":"E","t":4.4,"0":2.51,"100":2.72,"150":2.33,"200":1.97,"250":1.16},
{"p":"E","t":5.5,"0":2.56,"100":2.83,"150":2.35,"200":2.0,"250":1.16},
{"p":"E","t":6.6,"0":2.62,"100":2.91,"150":2.38,"200":2.03,"250":1.16},
{"p":"E","t":7.7,"0":2.66,"100":2.97,"150":2.39,"200":2.04,"250":1.16},
{"p":"E","t":8.8,"0":2.7,"100":3.04,"150":2.41,"200":2.05,"250":1.16},
{"p":"E","t":9.9,"0":2.74,"100":3.09,"150":2.42,"200":2.07,"250":1.16},
{"p":"E","t":11,"0":2.78,"100":3.14,"150":2.44,"200":2.08,"250":1.16},
{"p":"E","t":13.2,"0":2.85,"100":3.23,"150":2.47,"200":2.11,"250":1.16},
{"p":"E","t":15.4,"0":2.9,"100":3.29,"150":2.49,"200":2.13,"250":1.16},
{"p":"E","t":17.6,"0":2.97,"100":3.35,"150":2.51,"200":2.15,"250":1.15},
{"p":"E","t":19.8,"0":3.04,"100":3.41,"150":2.53,"200":2.17,"250":1.15},
{"p":"E","t":22,"0":3.1,"100":3.46,"150":2.55,"200":2.19,"250":1.15},
{"p":"E","t":24.2,"0":3.15,"100":3.49,"150":2.57,"200":2.2,"250":1.15},
{"p":"E","t":26.4,"0":3.19,"100":3.52,"150":2.58,"200":2.22,"250":1.15},
{"p":"E","t":28.6,"0":3.22,"100":3.55,"150":2.6,"200":2.23,"250":1.15},
{"p":"E","t":30.8,"0":3.25,"100":3.57,"150":2.61,"200":2.25,"250":1.15},
{"p":"E","t":33,"0":3.27,"100":3.59,"150":2.62,"200":2.26,"250":1.15},
{"p":"E","t":42,"0":3.35,"100":3.63,"150":2.66,"200":2.28,"250":1.15},
{"p":"E","t":53,"0":3.42,"100":3.66,"150":2.69,"200":2.3,"250":1.15},
{"p":"E","t":64,"0":3.5,"100":3.73,"150":2.72,"200":2.32,"250":1.15},
{"p":"E","t":74,"0":3.57,"100":3.8,"150":2.75,"200":2.34,"250":1.15},
{"p":"E","t":85,"0":3.65,"100":3.86,"150":2.77,"200":2.37,"250":1.14},
{"p":"E","t":95,"0":3.71,"100":3.93,"150":2.79,"200":2.39,"250":1.14},
{"p":"E","t":106,"0":3.8,"100":3.99,"150":2.81,"200":2.41,"250":1.14},
{"p":"E","t":127,"0":3.89,"100":4.05,"150":2.87,"200":2.45,"250":1.14},
{"p":"E","t":148,"0":3.95,"100":4.07,"150":2.9,"200":2.48,"250":1.14},
{"p":"E","t":170,"0":3.97,"100":4.08,"150":2.92,"200":2.5,"250":1.13},
{"p":"E","t":191,"0":3.97,"100":4.08,"150":2.93,"200":2.51,"250":1.13},
{"p":"E","t":212,"0":3.97,"100":4.07,"150":2.93,"200":2.51,"250":1.13},
{"p":"E","t":233,"0":3.96,"100":4.06,"150":2.93,"200":2.5,"250":1.13},
{"p":"E","t":254,"0":3.95,"100":4.05,"150":2.92,"200":2.5,"250":1.13},
{"p":"E","t":276,"0":3.94,"100":4.04,"150":2.92,"200":2.5,"250":1.13},
{"p":"E","t":297,"0":3.93,"100":4.03,"150":2.91,"200":2.49,"250":1.13},
{"p":"E","t":318,"0":3.92,"100":4.02,"150":2.9,"200":2.49,"250":1.13},
{"p":"E","t":420,"0":3.89,"100":3.99,"150":2.89,"200":2.48,"250":1.13},
{"p":"E","t":525,"0":3.86,"100":3.94,"150":2.86,"200":2.46,"250":1.12},
{"p":"E","t":630,"0":3.84,"100":3.92,"150":2.84,"200":2.45,"250":1.11},
{"p":"E","t":735,"0":3.83,"100":3.91,"150":2.82,"200":2.43,"250":1.11},
{"p":"E","t":840,"0":3.82,"100":3.89,"150":2.8,"200":2.42,"250":1.1},
{"p":"E","t":945,"0":3.8,"100":3.87,"150":2.78,"200":2.41,"250":1.1},
{"p":"E","t":1050,"0":3.78,"100":3.86,"150":2.76,"200":2.39,"250":1.1},
{"p":"F","t":0.012,"0":0.99,"100":0.99,"150":0.99,"200":0.99,"250":0.99},
{"p":"F","t":0.024,"0":1.07,"100":1.07,"150":1.07,"200":1.05,"250":1.03},
{"p":"F","t":0.036,"0":1.14,"100":1.14,"150":1.13,"200":1.12,"250":1.04},
{"p":"F","t":0.048,"0":1.2,"100":1.2,"150":1.18,"200":1.15,"250":1.07},
{"p":"F","t":0.06,"0":1.28,"100":1.28,"150":1.23,"200":1.18,"250":1.09},
{"p":"F","t":0.072,"0":1.33,"100":1.33,"150":1.29,"200":1.21,"250":1.11},
{"p":"F","t":0.084,"0":1.39,"100":1.39,"150":1.34,"200":1.25,"250":1.13},
{"p":"F","t":0.096,"0":1.48,"100":1.48,"150":1.4,"200":1.31,"250":1.15},
{"p":"F","t":0.108,"0":1.55,"100":1.55,"150":1.46,"200":1.36,"250":1.17},
{"p":"F","t":0.12,"0":1.62,"100":1.62,"150":1.52,"200":1.4,"250":1.19},
{"p":"F","t":0.14,"0":1.73,"100":1.73,"150":1.6,"200":1.47,"250":1.21},
{"p":"F","t":0.165,"0":1.86,"100":1.86,"150":1.71,"200":1.57,"250":1.24},
{"p":"F","t":0.19,"0":1.98,"100":1.98,"150":1.81,"200":1.65,"250":1.26},
{"p":"F","t":0.21,"0":2.07,"100":2.07,"150":1.88,"200":1.72,"250":1.28},
{"p":"F","t":0.235,"0":2.17,"100":2.17,"150":1.96,"200":1.79,"250":1.3},
{"p":"F","t":0.26,"0":2.26,"100":2.26,"150":2.03,"200":1.85,"250":1.31},
{"p":"F","t":0.285,"0":2.33,"100":2.33,"150":2.09,"200":1.9,"250":1.33},
{"p":"F","t":0.31,"0":2.4,"100":2.4,"150":2.14,"200":1.95,"250":1.34},
{"p":"F","t":0.33,"0":2.46,"100":2.46,"150":2.19,"200":1.99,"250":1.35},
{"p":"F","t":0.355,"0":2.51,"100":2.51,"150":2.24,"200":2.03,"250":1.36},
{"p":"F","t":0.47,"0":2.68,"100":2.66,"150":2.38,"200":2.12,"250":1.38},
{"p":"F","t":0.585,"0":2.78,"100":2.76,"150":2.46,"200":2.17,"250":1.38},
{"p":"F","t":0.7,"0":2.85,"100":2.84,"150":2.53,"200":2.22,"250":1.38},
{"p":"F","t":0.82,"0":2.88,"100":2.88,"150":2.58,"200":2.25,"250":1.39},
{"p":"F","t":0.94,"0":2.91,"100":2.91,"150":2.62,"200":2.28,"250":1.39},
{"p":"F","t":1.05,"0":2.92,"100":2.92,"150":2.63,"200":2.3,"250":1.39},
{"p":"F","t":1.17,"0":2.94,"100":2.94,"150":2.65,"200":2.31,"250":1.39},
{"p":"F","t":1.4,"0":2.94,"100":2.94,"150":2.66,"200":2.32,"250":1.39},
{"p":"F","t":1.64,"0":2.91,"100":2.91,"150":2.66,"200":2.32,"250":1.39},
{"p":"F","t":1.87,"0":2.88,"100":2.88,"150":2.65,"200":2.31,"250":1.39},
{"p":"F","t":2.1,"0":2.84,"100":2.85,"150":2.63,"200":2.3,"250":1.39},
{"p":"F","t":2.34,"0":2.83,"100":2.84,"150":2.62,"200":2.29,"250":1.39},
{"p":"F","t":2.57,"0":2.81,"100":2.82,"150":2.61,"200":2.28,"250":1.39},
{"p":"F","t":2.8,"0":2.79,"100":2.8,"150":2.6,"200":2.27,"250":1.39},
{"p":"F","t":3.04,"0":2.78,"100":2.79,"150":2.59,"200":2.26,"250":1.39},
{"p":"F","t":3.27,"0":2.77,"100":2.78,"150":2.58,"200":2.25,"250":1.39},
{"p":"F","t":3.5,"0":2.76,"100":2.78,"150":2.57,"200":2.24,"250":1.37},
{"p":"F","t":4.4,"0":2.81,"100":2.87,"150":2.6,"200":2.26,"250":1.37},
{"p":"F","t":5.5,"0":2.87,"100":2.93,"150":2.64,"200":2.29,"250":1.37},
{"p":"F","t":6.6,"0":2.92,"100":3.0,"150":2.68,"200":2.32,"250":1.37},
{"p":"F","t":7.7,"0":2.97,"100":3.06,"150":2.72,"200":2.35,"250":1.37},
{"p":"F","t":8.8,"0":3.02,"100":3.12,"150":2.76,"200":2.38,"250":1.37},
{"p":"F","t":9.9,"0":3.07,"100":3.17,"150":2.8,"200":2.4,"250":1.37},
{"p":"F","t":11,"0":3.12,"100":3.23,"150":2.83,"200":2.43,"250":1.37},
{"p":"F","t":13.2,"0":3.2,"100":3.33,"150":2.9,"200":2.48,"250":1.37},
{"p":"F","t":15.4,"0":3.28,"100":3.4,"150":2.95,"200":2.52,"250":1.37},
{"p":"F","t":17.6,"0":3.35,"100":3.48,"150":3.0,"200":2.55,"250":1.37},
{"p":"F","t":19.8,"0":3.41,"100":3.54,"150":3.04,"200":2.58,"250":1.37},
{"p":"F","t":22,"0":3.46,"100":3.6,"150":3.07,"200":2.6,"250":1.37},
{"p":"F","t":24.2,"0":3.51,"100":3.64,"150":3.1,"200":2.62,"250":1.37},
{"p":"F","t":26.4,"0":3.55,"100":3.68,"150":3.12,"200":2.65,"250":1.37},
{"p":"F","t":28.6,"0":3.58,"100":3.71,"150":3.14,"200":2.67,"250":1.37},
{"p":"F","t":30.8,"0":3.61,"100":3.74,"150":3.16,"200":2.69,"250":1.37},
{"p":"F","t":33,"0":3.63,"100":3.76,"150":3.18,"200":2.7,"250":1.37},
{"p":"F","t":42,"0":3.69,"100":3.8,"150":3.21,"200":2.74,"250":1.36},
{"p":"F","t":53,"0":3.76,"100":3.84,"150":3.24,"200":2.79,"250":1.36},
{"p":"F","t":64,"0":3.88,"100":3.95,"150":3.29,"200":2.83,"250":1.36},
{"p":"F","t":74,"0":3.98,"100":4.02,"150":3.37,"200":2.87,"250":1.36},
{"p":"F","t":85,"0":4.09,"100":4.11,"150":3.42,"200":2.91,"250":1.37},
{"p":"F","t":95,"0":4.17,"100":4.18,"150":3.47,"200":2.94,"250":1.37},
{"p":"F","t":106,"0":4.23,"100":4.24,"150":3.5,"200":2.97,"250":1.38},
{"p":"F","t":127,"0":4.31,"100":4.32,"150":3.55,"200":3.02,"250":1.38},
{"p":"F","t":148,"0":4.36,"100":4.36,"150":3.61,"200":3.05,"250":1.39},
{"p":"F","t":170,"0":4.37,"100":4.37,"150":3.63,"200":3.07,"250":1.4},
{"p":"F","t":191,"0":4.37,"100":4.37,"150":3.64,"200":3.07,"250":1.4},
{"p":"F","t":212,"0":4.37,"100":4.37,"150":3.64,"200":3.07,"250":1.4},
{"p":"F","t":233,"0":4.36,"100":4.36,"150":3.64,"200":3.07,"250":1.4},
{"p":"F","t":254,"0":4.36,"100":4.36,"150":3.63,"200":3.07,"250":1.41},
{"p":"F","t":276,"0":4.34,"100":4.34,"150":3.63,"200":3.06,"250":1.41},
{"p":"F","t":297,"0":4.33,"100":4.33,"150":3.62,"200":3.06,"250":1.41},
{"p":"F","t":318,"0":4.32,"100":4.32,"150":3.61,"200":3.05,"250":1.41},
{"p":"F","t":420,"0":4.26,"100":4.26,"150":3.57,"200":3.02,"250":1.41},
{"p":"F","t":525,"0":4.23,"100":4.23,"150":3.53,"200":2.99,"250":1.41},
{"p":"F","t":630,"0":4.19,"100":4.19,"150":3.5,"200":2.97,"250":1.4},
{"p":"F","t":735,"0":4.18,"100":4.18,"150":3.48,"200":2.95,"250":1.4},
{"p":"F","t":840,"0":4.16,"100":4.16,"150":3.46,"200":2.93,"250":1.4},
{"p":"F","t":945,"0":4.14,"100":4.14,"150":3.44,"200":2.91,"250":1.39},
{"p":"F","t":1050,"0":4.11,"100":4.11,"150":3.42,"200":2.89,"250":1.39}
]},
"data": {"name": "ojip"},
"transform": [{"fold": ["0", "100", "150", "200", "250"], "as": ["conc", "ratio"]}],
"columns": 2,
"spacing": 0,
"bounds": "flush",
"resolve": {"scale": {"x": "independent", "y": "independent"}, "axis": {"x": "independent", "y": "independent"}},
"concat": [
 {"width": 484, "height": 395, "transform": [{"filter": "datum.p === 'A'"}],
  "layer": [
   {"mark": {"type": "circle", "size": 100, "opacity": 1},
    "encoding": {
     "x": {"field": "t", "type": "quantitative", "scale": {"type": "log", "domain": [0.01, 1800], "nice": false}, "axis": {"values": [0.01, 0.1, 1, 10, 100, 1000], "labels": false, "title": null}},
     "y": {"field": "ratio", "type": "quantitative", "scale": {"domain": [0, 5]}, "axis": {"values": [1, 2, 3, 4, 5], "title": null}},
     "color": {"field": "conc", "type": "nominal", "scale": {"domain": ["0", "100", "150", "200", "250"], "range": ["#000000", "#006600", "#6600cc", "#002060", "#ff0000"]}, "legend": {"labelExpr": "datum.label + ' mM'"}},
     "order": {"field": "conc", "sort": "ascending"}}},
   {"data": {"values": [{"label": "A"}]}, "mark": {"type": "text", "fontSize": 22, "fontStyle": "italic", "align": "center", "baseline": "middle", "color": "black"},
    "encoding": {"x": {"datum": 1200, "type": "quantitative"}, "y": {"datum": 4.76, "type": "quantitative"}, "text": {"field": "label"}}}
  ]},
 {"width": 484, "height": 395, "transform": [{"filter": "datum.p === 'D'"}],
  "layer": [
   {"mark": {"type": "circle", "size": 100, "opacity": 1},
    "encoding": {
     "x": {"field": "t", "type": "quantitative", "scale": {"type": "log", "domain": [0.01, 1800], "nice": false, "reverse": true}, "axis": {"values": [0.01, 0.1, 1, 10, 100, 1000], "labels": false, "title": null}},
     "y": {"field": "ratio", "type": "quantitative", "scale": {"domain": [0, 5]}, "axis": null},
     "color": {"field": "conc", "type": "nominal", "scale": {"domain": ["0", "100", "150", "200", "250"], "range": ["#000000", "#006600", "#6600cc", "#002060", "#ff0000"]}, "legend": {"labelExpr": "datum.label + ' mM'"}},
     "order": {"field": "conc", "sort": "ascending"}}},
   {"data": {"values": [{"label": "D"}]}, "mark": {"type": "text", "fontSize": 22, "fontStyle": "italic", "align": "center", "baseline": "middle", "color": "black"},
    "encoding": {"x": {"datum": 0.015, "type": "quantitative"}, "y": {"datum": 4.76, "type": "quantitative"}, "text": {"field": "label"}}}
  ]},
 {"width": 484, "height": 395, "transform": [{"filter": "datum.p === 'B'"}],
  "layer": [
   {"mark": {"type": "circle", "size": 100, "opacity": 1},
    "encoding": {
     "x": {"field": "t", "type": "quantitative", "scale": {"type": "log", "domain": [0.01, 1800], "nice": false}, "axis": {"values": [0.01, 0.1, 1, 10, 100, 1000], "labels": false, "title": null}},
     "y": {"field": "ratio", "type": "quantitative", "scale": {"domain": [0, 5]}, "axis": {"values": [1, 2, 3, 4, 5], "title": "Fₜ/Fₒ", "titlePadding": 26}},
     "color": {"field": "conc", "type": "nominal", "scale": {"domain": ["0", "100", "150", "200", "250"], "range": ["#000000", "#006600", "#6600cc", "#002060", "#ff0000"]}, "legend": {"labelExpr": "datum.label + ' mM'"}},
     "order": {"field": "conc", "sort": "ascending"}}},
   {"data": {"values": [{"label": "B"}]}, "mark": {"type": "text", "fontSize": 22, "fontStyle": "italic", "align": "center", "baseline": "middle", "color": "black"},
    "encoding": {"x": {"datum": 1200, "type": "quantitative"}, "y": {"datum": 4.76, "type": "quantitative"}, "text": {"field": "label"}}}
  ]},
 {"width": 484, "height": 395, "transform": [{"filter": "datum.p === 'E'"}],
  "layer": [
   {"mark": {"type": "circle", "size": 100, "opacity": 1},
    "encoding": {
     "x": {"field": "t", "type": "quantitative", "scale": {"type": "log", "domain": [0.01, 1800], "nice": false, "reverse": true}, "axis": {"values": [0.01, 0.1, 1, 10, 100, 1000], "labels": false, "title": null}},
     "y": {"field": "ratio", "type": "quantitative", "scale": {"domain": [0, 5]}, "axis": null},
     "color": {"field": "conc", "type": "nominal", "scale": {"domain": ["0", "100", "150", "200", "250"], "range": ["#000000", "#006600", "#6600cc", "#002060", "#ff0000"]}, "legend": {"labelExpr": "datum.label + ' mM'"}},
     "order": {"field": "conc", "sort": "ascending"}}},
   {"data": {"values": [{"label": "E"}]}, "mark": {"type": "text", "fontSize": 22, "fontStyle": "italic", "align": "center", "baseline": "middle", "color": "black"},
    "encoding": {"x": {"datum": 0.015, "type": "quantitative"}, "y": {"datum": 4.76, "type": "quantitative"}, "text": {"field": "label"}}}
  ]},
 {"width": 484, "height": 395, "transform": [{"filter": "datum.p === 'C'"}],
  "layer": [
   {"mark": {"type": "circle", "size": 100, "opacity": 1},
    "encoding": {
     "x": {"field": "t", "type": "quantitative", "scale": {"type": "log", "domain": [0.01, 1800], "nice": false}, "axis": {"values": [0.01, 0.1, 1, 10, 100, 1000], "format": "~g", "labelFlush": true, "title": "TIME [ms]", "titleX": 484, "titlePadding": 6}},
     "y": {"field": "ratio", "type": "quantitative", "scale": {"domain": [0, 5]}, "axis": {"values": [0, 1, 2, 3, 4, 5], "title": null}},
     "color": {"field": "conc", "type": "nominal", "scale": {"domain": ["0", "100", "150", "200", "250"], "range": ["#000000", "#006600", "#6600cc", "#002060", "#ff0000"]}, "legend": {"labelExpr": "datum.label + ' mM'"}},
     "order": {"field": "conc", "sort": "ascending"}}},
   {"data": {"values": [{"label": "C"}]}, "mark": {"type": "text", "fontSize": 22, "fontStyle": "italic", "align": "center", "baseline": "middle", "color": "black"},
    "encoding": {"x": {"datum": 1200, "type": "quantitative"}, "y": {"datum": 4.76, "type": "quantitative"}, "text": {"field": "label"}}}
  ]},
 {"width": 484, "height": 395, "transform": [{"filter": "datum.p === 'F'"}],
  "layer": [
   {"mark": {"type": "circle", "size": 100, "opacity": 1},
    "encoding": {
     "x": {"field": "t", "type": "quantitative", "scale": {"type": "log", "domain": [0.01, 1800], "nice": false, "reverse": true}, "axis": {"values": [0.01, 0.1, 1, 10, 100, 1000], "format": "~g", "labelFlush": true, "title": null}},
     "y": {"field": "ratio", "type": "quantitative", "scale": {"domain": [0, 5]}, "axis": null},
     "color": {"field": "conc", "type": "nominal", "scale": {"domain": ["0", "100", "150", "200", "250"], "range": ["#000000", "#006600", "#6600cc", "#002060", "#ff0000"]}, "legend": {"labelExpr": "datum.label + ' mM'"}},
     "order": {"field": "conc", "sort": "ascending"}}},
   {"data": {"values": [{"label": "F"}]}, "mark": {"type": "text", "fontSize": 22, "fontStyle": "italic", "align": "center", "baseline": "middle", "color": "black"},
    "encoding": {"x": {"datum": 0.015, "type": "quantitative"}, "y": {"datum": 4.76, "type": "quantitative"}, "text": {"field": "label"}}}
  ]}
]
}
